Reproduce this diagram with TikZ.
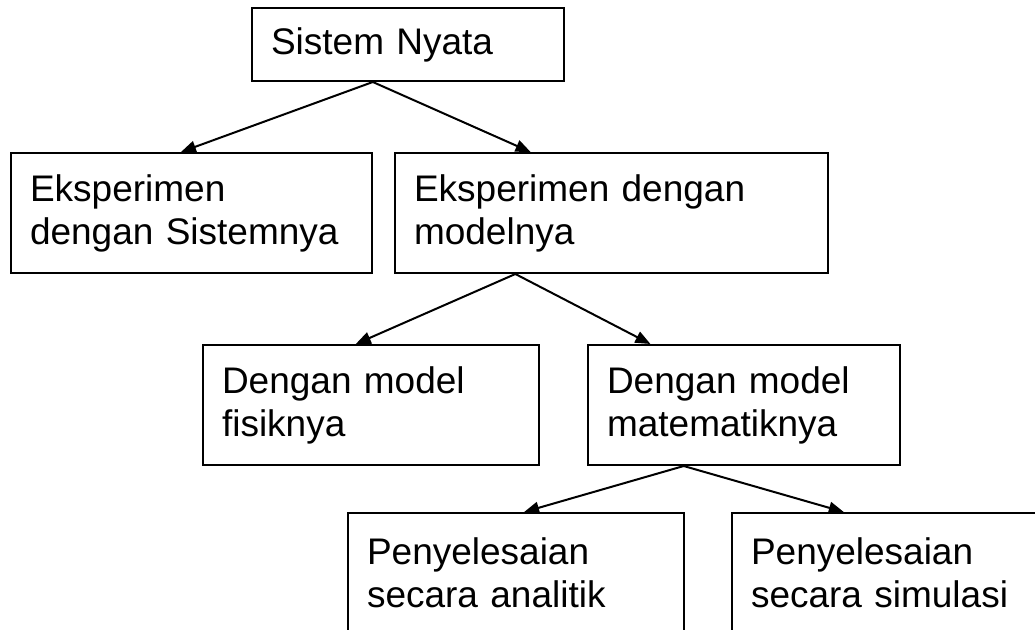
\documentclass[tikz,border=0pt]{standalone}
\usepackage{fontspec}
\setmainfont{Liberation Sans}
\usetikzlibrary{arrows.meta,calc}
\tikzset{
  box/.style={draw, line width=2pt, rectangle, anchor=north west, align=left,
    inner xsep=19pt, inner ysep=0pt, minimum height=120pt,
    font=\fontsize{37}{43}\selectfont},
  conn/.style={line width=2pt, -{Triangle[length=15pt,width=12pt]}}
}
\begin{document}
\begin{tikzpicture}[x=1pt,y=-1pt]
\useasboundingbox (0,0) rectangle (1035,629);
\clip (0,0) rectangle (1035,629);
\node[box, minimum height=73pt, text width=274pt] (b1) at (251,7) {Sistem Nyata};
\node[box, text width=323pt] (b2) at (10,152) {Eksperimen\\dengan Sistemnya};
\node[box, text width=395pt] (b3) at (394,152) {Eksperimen dengan\\modelnya};
\node[box, text width=298pt] (b4) at (202,344) {Dengan model\\fisiknya};
\node[box, text width=274pt] (b5) at (587,344) {Dengan model\\matematiknya};
\node[box, text width=298pt] (b6) at (347,512) {Penyelesaian\\secara analitik};
\node[box, text width=331pt] (b7) at (731,512) {Penyelesaian\\secara simulasi};
\coordinate (s1) at ($(b1.south west)!0.388!(b1.south east)$);
\coordinate (s3) at ($(b3.south west)!0.279!(b3.south east)$);
\coordinate (s5) at ($(b5.south west)!0.308!(b5.south east)$);
\draw[conn] (s1) -- ($(b2.north west)!0.471!(b2.north east)$);
\draw[conn] (s1) -- ($(b3.north west)!0.314!(b3.north east)$);
\draw[conn] (s3) -- ($(b4.north west)!0.455!(b4.north east)$);
\draw[conn] (s3) -- ($(b5.north west)!0.202!(b5.north east)$);
\draw[conn] (s5) -- ($(b6.north west)!0.524!(b6.north east)$);
\draw[conn] (s5) -- ($(b7.north west)!0.304!(b7.north east)$);
\end{tikzpicture}
\end{document}
